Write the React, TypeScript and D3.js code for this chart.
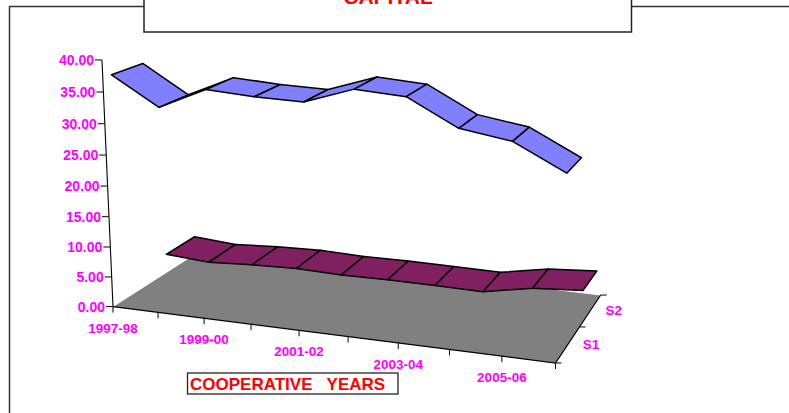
import React from "react";
import * as d3 from "d3";

const categories = ["1997-98","1998-99","1999-00","2000-01","2001-02","2002-03","2003-04","2004-05","2005-06","2006-07"];
const s1Values = [37.2,32.85,36.47,36.18,36.2,39.05,38.75,34.75,33.65,29.65];
const s2Values = [3.2,2.7,3.2,3.5,3.35,3.5,3.5,3.45,5.1,5.8];
const valueTicks = [0,5,10,15,20,25,30,35,40];
const seriesLabels = ["S1","S2"];

const W = 789, H = 413;
const MAGENTA = "#ff00ff";
const FONT = "'Liberation Sans', Arial, sans-serif";

// floor corners of the 3D box, and the vanishing point of its verticals
const A = [113,306.6], B = [555.5,363], C = [600.7,295], D = [206,247];
const VP = [352,5653];
const TOP_K = -0.0441;

function homography(a:number[],b:number[],c:number[],e:number[]) {
  const dx1=b[0]-c[0],dx2=e[0]-c[0],sx=a[0]-b[0]+c[0]-e[0];
  const dy1=b[1]-c[1],dy2=e[1]-c[1],sy=a[1]-b[1]+c[1]-e[1];
  const det=dx1*dy2-dx2*dy1;
  const g=(sx*dy2-dx2*sy)/det,h=(dx1*sy-sx*dy1)/det;
  return {
    h1:[b[0]-a[0]+g*b[0],b[1]-a[1]+g*b[1],g],
    h2:[e[0]-a[0]+h*e[0],e[1]-a[1]+h*e[1],h],
    h4:[a[0],a[1],1],
  };
}
const hm = homography(A,B,C,D);
const WARP = 0.94;
const catScale = d3.scalePoint<string>().domain(categories).range([0,1]);
const zScale = d3.scaleLinear().domain([0,40]).range([0,TOP_K]);
const warp = (t:number) => WARP*t/(1+(WARP-1)*t);

function project(cat:string, depth:number, value:number):[number,number] {
  const u = warp(catScale(cat) as number), z = zScale(value);
  const p = [0,1,2].map(k => hm.h1[k]*u + hm.h2[k]*depth + hm.h4[k] + z*[VP[0],VP[1],1][k]);
  return [p[0]/p[2], p[1]/p[2]];
}

const first = categories[0], last = categories[categories.length-1];
const pathOf = d3.line<[number,number]>();

function Ribbon({values,front,back,fill}:{values:number[];front:number;back:number;fill:string}) {
  return <g>
    {categories.slice(0,-1).map((c,i)=>{
      const n = categories[i+1];
      const pts:[number,number][] = [project(c,front,values[i]),project(n,front,values[i+1]),project(n,back,values[i+1]),project(c,back,values[i])];
      return <path key={c} d={pathOf(pts)+"Z"} fill={fill} stroke="#000" strokeWidth={1.5} strokeLinejoin="round"/>;
    })}
  </g>;
}

export default function App() {
  const floor:[number,number][] = [project(first,0,0),project(last,0,0),project(last,1,0),project(first,1,0)];
  const textBase = {fontFamily:FONT,fontWeight:700} as const;
  return (
    <svg width={W} height={H} style={{position:"absolute",left:0,top:0,display:"block",background:"#fff"}}>
      <rect x={9.5} y={6.5} width={W+20} height={H+20} fill="#fff" stroke="#333" strokeWidth={1.5}/>
      <rect x={144} y={-20} width={487.5} height={52} fill="#fff" stroke="#222" strokeWidth={1.5}/>
      <text x={388} y={3.5} textAnchor="middle" fontSize={21} fill="#ff0000" {...textBase}>CAPITAL</text>

      <path d={pathOf(floor)+"Z"} fill="#808080"/>
      <path d={pathOf([floor[0],floor[3],floor[2]])!} fill="none" stroke="#fff" strokeWidth={1}/>
      <path d={pathOf([floor[0],floor[1],floor[2]])!} fill="none" stroke="#000" strokeWidth={1.2}/>
      <path d={pathOf([project(first,0,0),project(first,0,40)])!} stroke="#000" strokeWidth={1.1} fill="none"/>

      {valueTicks.map(v=>{
        const [x,y]=project(first,0,v);
        return <g key={v}>
          <line x1={x-7} x2={x} y1={y} y2={y} stroke="#000" strokeWidth={1}/>
          <text x={x-8} y={y+5} textAnchor="end" fontSize={14} fill={MAGENTA} {...textBase}>{v.toFixed(2)}</text>
        </g>;
      })}

      {categories.map((c,i)=>{
        const [x,y]=project(c,0,0);
        return <g key={c}>
          <line x1={x} x2={x} y1={y} y2={y+6} stroke="#000" strokeWidth={1}/>
          {i%2===0 && i<9 && <text x={x} y={y+26} textAnchor="middle" fontSize={13.5} fill={MAGENTA} {...textBase}>{c}</text>}
        </g>;
      })}

      {[0,0.5,1].map(d=>{
        const [x,y]=project(last,d,0);
        return <line key={d} x1={x} x2={x+6} y1={y} y2={y} stroke="#000" strokeWidth={1}/>;
      })}
      {seriesLabels.map((s,i)=>{
        const [x,y]=project(last,0.25+i*0.5,0);
        return <text key={s} x={x+15} y={y+5} fontSize={13.5} fill={MAGENTA} {...textBase}>{s}</text>;
      })}

      <Ribbon values={s2Values} front={0.55} back={0.87} fill="#802060"/>
      <Ribbon values={s1Values} front={0.08} back={0.38} fill="#8080ff"/>

      <rect x={187.5} y={373} width={210.5} height={21} fill="#fff" stroke="#222" strokeWidth={1.3}/>
      <text x={190} y={390} fontSize={17} fill="#ff0000" wordSpacing={2.5} style={{whiteSpace:"pre"}} {...textBase}>{"COOPERATIVE  YEARS"}</text>
    </svg>
  );
}
